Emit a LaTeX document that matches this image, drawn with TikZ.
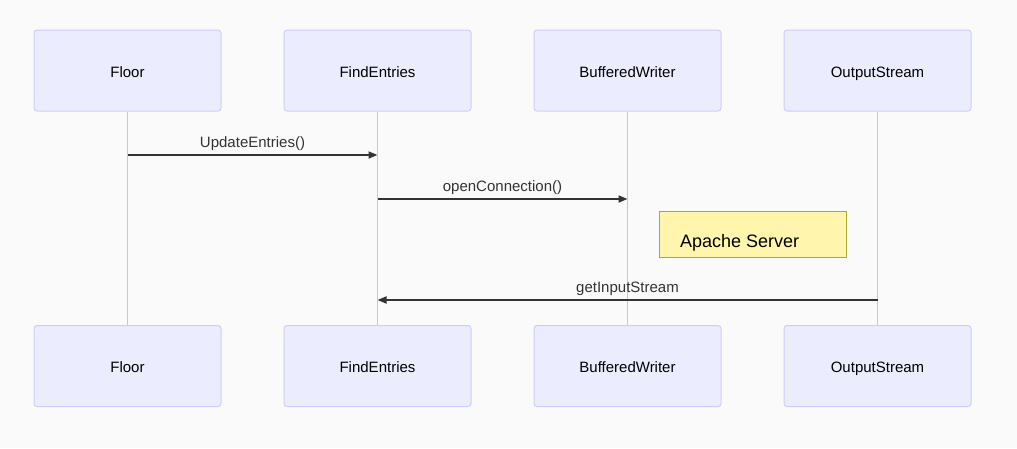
\documentclass[tikz,border=0pt]{standalone}
\usepackage{fontspec}
\setmainfont{Liberation Sans}
\usetikzlibrary{arrows.meta}
\definecolor{bg}{HTML}{FAFAFA}
\definecolor{actfill}{HTML}{ECECFF}
\definecolor{actdraw}{HTML}{CCCCFF}
\definecolor{lifec}{HTML}{C8C8C8}
\definecolor{msgc}{HTML}{333333}
\definecolor{notefill}{HTML}{FFF5AD}
\definecolor{notedraw}{HTML}{AAAA33}
\tikzset{
  actor/.style={draw=actdraw, fill=actfill, line width=1pt, rounded corners=3pt,
    minimum width=187pt, minimum height=81pt, inner sep=0pt,
    text height=13pt, text depth=0pt,
    font=\fontsize{15}{17}\selectfont, text=black},
  life/.style={draw=lifec, line width=1.5pt},
  msg/.style={draw=msgc, line width=1.8pt, -{Triangle[length=9pt,width=7pt]}},
  msglabel/.style={font=\fontsize{15}{17}\selectfont, text=msgc, inner sep=0pt, anchor=base},
  notebox/.style={draw=notedraw, fill=notefill, line width=1pt, minimum width=187pt,
    minimum height=46pt, inner sep=0pt},
}
\begin{document}
\begin{tikzpicture}[x=1pt,y=-1pt]
\useasboundingbox[fill=bg] (0,0) rectangle (1017,448);
% actors top
\node[actor] (ft) at (127.5,70.5) {Floor};
\node[actor] (et) at (377.5,70.5) {FindEntries};
\node[actor] (bt) at (627.5,70.5) {BufferedWriter};
\node[actor] (ot) at (877.5,70.5) {OutputStream};
% actors bottom
\node[actor] (fb) at (127.5,366) {Floor};
\node[actor] (eb) at (377.5,366) {FindEntries};
\node[actor] (bb) at (627.5,366) {BufferedWriter};
\node[actor] (ob) at (877.5,366) {OutputStream};
% lifelines
\draw[life] (ft.south) -- (fb.north);
\draw[life] (et.south) -- (eb.north);
\draw[life] (bt.south) -- (bb.north);
\draw[life] (ot.south) -- (ob.north);
% messages
\coordinate (m1a) at (127.5,155);
\coordinate (m1b) at (377.5,155);
\draw[msg] (m1a) -- (m1b);
\node[msglabel] (l1) at (252.5,147) {UpdateEntries()};
\coordinate (m2a) at (377.5,199);
\coordinate (m2b) at (627.5,199);
\draw[msg] (m2a) -- (m2b);
\node[msglabel] (l2) at (502.5,191) {openConnection()};
% note
\node[notebox] (note) at (752.5,234) {};
\node[font=\fontsize{18}{20}\selectfont, anchor=base west, inner sep=0pt] (notet) at (680,247) {Apache Server};
\coordinate (m3a) at (877.5,300);
\coordinate (m3b) at (377.5,300);
\draw[msg] (m3a) -- (m3b);
\node[msglabel] (l3) at (627.5,292) {getInputStream};
\end{tikzpicture}
\end{document}
